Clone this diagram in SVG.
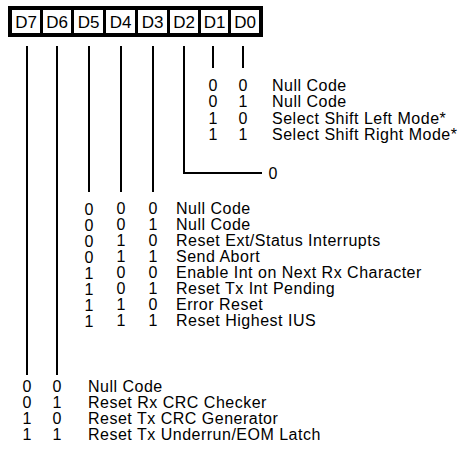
<svg xmlns="http://www.w3.org/2000/svg" width="474" height="462" viewBox="0 0 474 462">
<style>
.hdr{fill:#fff;stroke:none}
.hl{font-family:"Liberation Sans",Arial,sans-serif;font-size:17px;fill:#000;text-anchor:middle}
.t{font-family:"Liberation Sans",Arial,sans-serif;font-size:16px;letter-spacing:0.5px;fill:#000}
.d{font-family:"Liberation Sans",Arial,sans-serif;font-size:16px;fill:#000;text-anchor:middle}
.ln{stroke:#000;stroke-width:2;fill:none}
</style>
<rect width="474" height="462" fill="#fff"/>
<g id="header">
<rect x="8" y="6" width="255" height="31" fill="#000"/>
<rect class="hdr" x="12" y="10" width="28" height="23"/>
<rect class="hdr" x="43" y="10" width="28" height="23"/>
<rect class="hdr" x="74" y="10" width="29" height="23"/>
<rect class="hdr" x="106" y="10" width="29" height="23"/>
<rect class="hdr" x="138" y="10" width="29" height="23"/>
<rect class="hdr" x="170" y="10" width="28" height="23"/>
<rect class="hdr" x="201" y="10" width="27" height="23"/>
<rect class="hdr" x="231" y="10" width="28" height="23"/>
<text class="hl" x="26" y="28">D7</text>
<text class="hl" x="57" y="28">D6</text>
<text class="hl" x="88.5" y="28">D5</text>
<text class="hl" x="120.5" y="28">D4</text>
<text class="hl" x="152.5" y="28">D3</text>
<text class="hl" x="184" y="28">D2</text>
<text class="hl" x="214.5" y="28">D1</text>
<text class="hl" x="245" y="28">D0</text>
</g>
<g id="connectors">
<line class="ln" x1="27" y1="46" x2="27" y2="375"/>
<line class="ln" x1="57" y1="46" x2="57" y2="375"/>
<line class="ln" x1="89" y1="46" x2="89" y2="192"/>
<line class="ln" x1="121" y1="46" x2="121" y2="192"/>
<line class="ln" x1="153" y1="46" x2="153" y2="192"/>
<polyline class="ln" points="184,46 184,173 262,173"/>
<line class="ln" x1="213" y1="46" x2="213" y2="68"/>
<line class="ln" x1="243" y1="46" x2="243" y2="68"/>
</g>
<g id="d1d0-table">
<text class="d" x="213" y="91">0</text><text class="d" x="243" y="91">0</text><text class="t" x="272" y="91">Null Code</text>
<text class="d" x="213" y="107">0</text><text class="d" x="243" y="107">1</text><text class="t" x="272" y="107">Null Code</text>
<text class="d" x="213" y="124">1</text><text class="d" x="243" y="124">0</text><text class="t" x="272" y="124">Select Shift Left Mode*</text>
<text class="d" x="213" y="140">1</text><text class="d" x="243" y="140">1</text><text class="t" x="272" y="140">Select Shift Right Mode*</text>
<text class="d" x="273" y="179">0</text>
</g>
<g id="d5d4d3-table">
<text class="d" x="89" y="215">0</text><text class="d" x="121" y="214">0</text><text class="d" x="153" y="214">0</text><text class="t" x="176" y="214">Null Code</text>
<text class="d" x="89" y="231">0</text><text class="d" x="121" y="230">0</text><text class="d" x="153" y="230">1</text><text class="t" x="176" y="230">Null Code</text>
<text class="d" x="89" y="247">0</text><text class="d" x="121" y="246">1</text><text class="d" x="153" y="246">0</text><text class="t" x="176" y="246">Reset Ext/Status Interrupts</text>
<text class="d" x="89" y="263">0</text><text class="d" x="121" y="262">1</text><text class="d" x="153" y="262">1</text><text class="t" x="176" y="262">Send Abort</text>
<text class="d" x="89" y="279">1</text><text class="d" x="121" y="278">0</text><text class="d" x="153" y="278">0</text><text class="t" x="176" y="278">Enable Int on Next Rx Character</text>
<text class="d" x="89" y="295">1</text><text class="d" x="121" y="294">0</text><text class="d" x="153" y="294">1</text><text class="t" x="176" y="294">Reset Tx Int Pending</text>
<text class="d" x="89" y="311">1</text><text class="d" x="121" y="310">1</text><text class="d" x="153" y="310">0</text><text class="t" x="176" y="310">Error Reset</text>
<text class="d" x="89" y="327">1</text><text class="d" x="121" y="326">1</text><text class="d" x="153" y="326">1</text><text class="t" x="176" y="326">Reset Highest IUS</text>
</g>
<g id="d7d6-table">
<text class="d" x="27" y="392">0</text><text class="d" x="57" y="392">0</text><text class="t" x="88" y="392">Null Code</text>
<text class="d" x="27" y="408">0</text><text class="d" x="57" y="408">1</text><text class="t" x="88" y="408">Reset Rx CRC Checker</text>
<text class="d" x="27" y="424">1</text><text class="d" x="57" y="424">0</text><text class="t" x="88" y="424">Reset Tx CRC Generator</text>
<text class="d" x="27" y="440">1</text><text class="d" x="57" y="440">1</text><text class="t" x="88" y="440">Reset Tx Underrun/EOM Latch</text>
</g>
</svg>
